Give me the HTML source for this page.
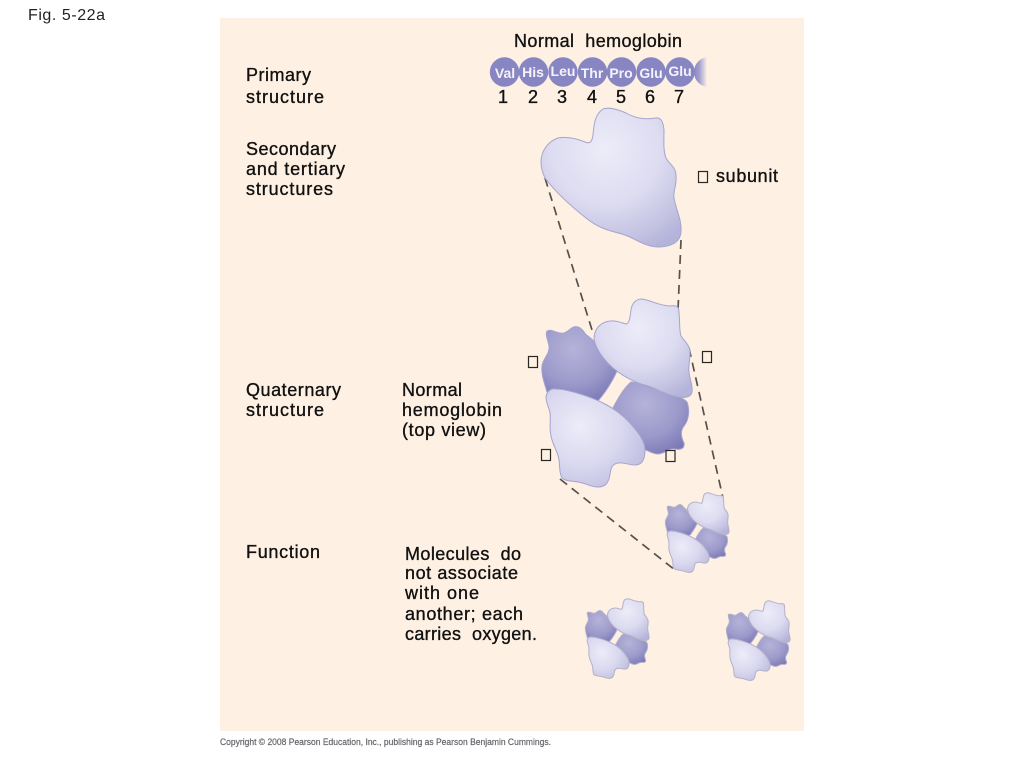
<!DOCTYPE html>
<html><head><meta charset="utf-8"><style>
html,body{margin:0;padding:0;background:#fff}
svg{display:block}
.l{font-family:"Liberation Sans",sans-serif;font-size:18px;fill:#111;stroke:#111;stroke-width:.35}
.b{font-family:"Liberation Sans",sans-serif;font-size:14px;font-weight:bold;fill:#f4f2fa;text-anchor:middle}
.n{font-family:"Liberation Sans",sans-serif;font-size:18px;fill:#111;stroke:#111;stroke-width:.35;text-anchor:middle}
.e{stroke:var(--c,#a5a4ce);stroke-width:var(--w,1)}
</style></head><body>
<svg width="1024" height="768" viewBox="0 0 1024 768" xmlns="http://www.w3.org/2000/svg">
<defs>
<radialGradient id="lt" cx=".46" cy=".3" r=".78"><stop offset="0" stop-color="#edecf8"/><stop offset=".5" stop-color="#dddcf1"/><stop offset=".85" stop-color="#c2c1e1"/><stop offset="1" stop-color="#b4b3da"/></radialGradient>
<radialGradient id="lt2" cx=".35" cy=".38" r=".75"><stop offset="0" stop-color="#edecf8"/><stop offset=".55" stop-color="#d9d8ef"/><stop offset="1" stop-color="#bdbcdf"/></radialGradient>
<radialGradient id="dk" cx=".42" cy=".3" r=".75"><stop offset="0" stop-color="#b5b3d9"/><stop offset=".6" stop-color="#9d9acb"/><stop offset="1" stop-color="#7c79b8"/></radialGradient>
<linearGradient id="tail" x1="0" x2="1" y1="0" y2="0"><stop offset="0" stop-color="#8886c2"/><stop offset=".4" stop-color="#a09ed0"/><stop offset="1" stop-color="#fef1e3"/></linearGradient>
<path id="sub" d="M541,162C541,150 549,141 558,138C567,136 578,139 585,142C590,144 592,142 593,135C594,124 595,114 603,109C608,107 617,109 626,113C635,118 645,120 655,118C661,117 663,121 664,130C664,140 663,150 666,158C670,165 676,167 676,176C677,185 673,190 674,198C676,210 682,220 681,232C680,243 670,247 658,247C645,247 635,238 622,234C610,231 598,228 586,218C572,207 556,193 545,178C542,172 541,167 541,162Z"/>
<g id="tetra">
<path class="e" fill="url(#dk)" d="M547,331C552,328 558,335 564,333C570,331 572,325 578,327C584,329 584,334 588,336C596,342 608,356 617,371C612,382 606,392 597,402L547,392C544,382 541,374 542,366C543,358 550,354 549,346C548,340 545,335 547,331Z"/>
<path class="e" fill="url(#dk)" d="M613,408C618,398 624,388 631,382C642,383 650,388 660,392C670,396 682,396 687,402C690,410 689,420 684,426C680,431 681,437 684,443C685,449 680,450 675,449C668,448 665,454 658,454C652,454 648,450 645,450L632,424Z"/>
<path class="e" fill="url(#lt)" d="M594,337C595,328 601,322 610,321C616,320 622,323 626,324C629,324 630,318 631,310C632,303 636,299 642,299C650,300 660,306 670,306C676,305 679,306 679,312C680,320 679,330 681,336C685,342 690,345 690,353C690,362 688,366 689,372C690,380 693,386 692,392C691,397 685,398 678,397C668,396 660,390 648,386C636,383 625,378 613,368C606,362 600,354 597,348C595,344 594,341 594,337Z"/>
<path class="e" fill="url(#lt2)" d="M546,397C547,391 551,388 556,389C563,389 570,391 577,393C587,396 595,399 603,403C613,408 622,414 630,423C638,432 645,441 645,450C645,458 643,465 635,465C628,465 624,462 618,463C612,464 611,468 610,474C609,482 606,487 598,487C590,487 586,483 578,482C572,481 565,481 562,478C559,473 560,466 559,460C558,452 553,446 551,436C549,428 551,420 550,413C549,407 546,403 546,397Z"/>
</g>
</defs>
<rect x="220" y="18" width="584" height="713" fill="#fef1e3"/>
<text x="28" y="20" font-family="Liberation Sans,sans-serif" font-size="16" fill="#222" textLength="77">Fig. 5-22a</text>
<text class="l" x="514" y="47" textLength="168" xml:space="preserve">Normal  hemoglobin</text>
<path fill="url(#tail)" d="M694,72C694,64 700,58 707,57L707,87C700,86 694,80 694,72Z"/>
<g fill="#8886c2">
<circle cx="504.500" cy="72" r="14.700"/><circle cx="533.500" cy="72" r="14.700"/><circle cx="563" cy="72" r="14.700"/><circle cx="592.500" cy="72" r="14.700"/><circle cx="621.500" cy="72" r="14.700"/><circle cx="651" cy="72" r="14.700"/><circle cx="680" cy="72" r="14.700"/>
</g>
<text class="b" x="505" y="78">Val</text><text class="b" x="533" y="77">His</text><text class="b" x="563" y="76">Leu</text><text class="b" x="592" y="78">Thr</text><text class="b" x="621" y="78">Pro</text><text class="b" x="651" y="78">Glu</text><text class="b" x="680" y="76">Glu</text>
<text class="n" x="503" y="103">1</text><text class="n" x="533" y="103">2</text><text class="n" x="562" y="103">3</text><text class="n" x="592" y="103">4</text><text class="n" x="621" y="103">5</text><text class="n" x="650" y="103">6</text><text class="n" x="679" y="103">7</text>
<text class="l" x="246" y="81" textLength="65">Primary</text>
<text class="l" x="246" y="103" textLength="78">structure</text>
<text class="l" x="246" y="155" textLength="90">Secondary</text>
<text class="l" x="246" y="175" textLength="99">and tertiary</text>
<text class="l" x="246" y="195" textLength="87">structures</text>
<text class="l" x="246" y="396" textLength="95">Quaternary</text>
<text class="l" x="246" y="416" textLength="78">structure</text>
<text class="l" x="402" y="396" textLength="60">Normal</text>
<text class="l" x="402" y="416" textLength="100">hemoglobin</text>
<text class="l" x="402" y="436" textLength="84">(top view)</text>
<text class="l" x="246" y="558" textLength="74">Function</text>
<text class="l" x="405" y="560" textLength="116" xml:space="preserve">Molecules  do</text>
<text class="l" x="405" y="579" textLength="113">not associate</text>
<text class="l" x="405" y="599" textLength="74">with one</text>
<text class="l" x="405" y="620" textLength="118">another; each</text>
<text class="l" x="405" y="640" textLength="132" xml:space="preserve">carries  oxygen.</text>
<text class="l" x="716" y="182" textLength="62">subunit</text>
<g fill="none" stroke="#55524e" stroke-width="1.700" stroke-dasharray="9 6">
<path d="M545,178L592,330"/><path d="M681,240L678,310"/><path d="M689,348L723,498"/><path d="M560,479L675,570"/>
</g>
<use href="#sub" class="e" fill="url(#lt)"/>
<use href="#tetra"/>
<g style="--w:2.400;--c:#b4b3c8">
<g transform="translate(435.600,366) scale(.424)"><use href="#tetra"/></g>
<g transform="translate(355.600,472) scale(.424)"><use href="#tetra"/></g>
<g transform="translate(496.600,474) scale(.424)"><use href="#tetra"/></g>
</g>
<g fill="none" stroke="#2a2723" stroke-width="1.200">
<rect x="698.500" y="171.500" width="9" height="11"/>
<rect x="528.500" y="356.500" width="9" height="11"/>
<rect x="702.500" y="351.500" width="9" height="11"/>
<rect x="541.500" y="449.500" width="9" height="11"/>
<rect x="666" y="450.500" width="9" height="11"/>
</g>
<text x="220" y="745" font-family="Liberation Sans,sans-serif" font-size="9" fill="#66646a" stroke="#66646a" stroke-width=".2" textLength="331" lengthAdjust="spacingAndGlyphs">Copyright © 2008 Pearson Education, Inc., publishing as Pearson Benjamin Cummings.</text>
</svg>
</body></html>
